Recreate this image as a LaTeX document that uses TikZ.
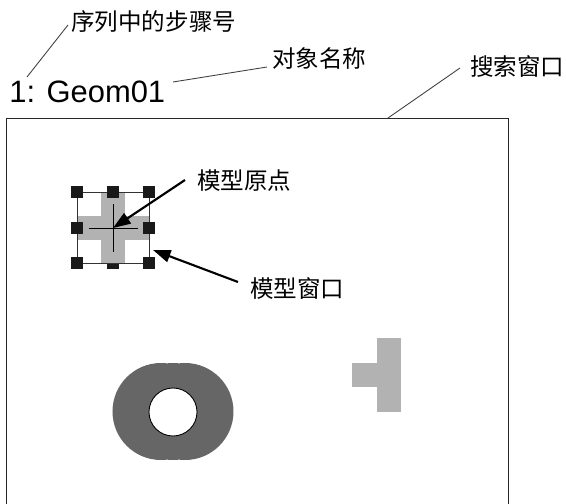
\documentclass[tikz,border=0pt]{standalone}
\usepackage{fontspec}
\setmainfont{Liberation Sans}
\newfontfamily\cjk{Noto Sans CJK SC}
\usetikzlibrary{arrows.meta,positioning,calc}

\begin{document}
\begin{tikzpicture}[
  x=0.02cm,y=-0.02cm,
  lbl/.style={font=\cjk\fontsize{13.4}{15}\selectfont,inner sep=0pt,anchor=west},
  steplbl/.style={font=\fontsize{17.6}{19}\selectfont,inner sep=0pt,anchor=west},
  lead/.style={draw=black!75,line width=0.5pt},
  ar/.style={-{Triangle[length=10pt,width=7pt]},line width=1.2pt},
  handle/.style={fill=black!90,minimum size=6.8pt,inner sep=0pt},
  light/.style={fill=black!30},
  dark/.style={fill=black!60}
]
\useasboundingbox (0,0) rectangle (566,504);

% labels at the top
\node[lbl]     (stepno)    at (71,22)  {序列中的步骤号};
\node[steplbl] (geomname)  at (9,92)   {1: Geom01};
\node[lbl]     (objname)   at (272,59) {对象名称};
\node[lbl]     (searchwin) at (470,67) {搜索窗口};

% search window (open at the bottom)
\draw[black!85,line width=0.5pt] (6,504) -- (6,118) -- (508,118) -- (508,504);
\coordinate (sw) at (388,118);

% leader lines
\coordinate (s1) at (27,77);
\coordinate (s2) at (68,25);
\coordinate (g1) at (173,82);
\coordinate (g2) at (267,67);
\coordinate (w2) at (460,68);
\draw[lead] (s1) -- (s2);
\draw[lead] (g1) -- (g2);
\draw[lead] (sw) -- (w2);

% model: cross with window and handles
\node[handle] (hbm) at (113,263) {};
\fill[light] (101,192) rectangle (125,264);
\fill[light] (77,216) rectangle (149,240);
\draw[black!80,line width=0.5pt] (77,192) rectangle (149,263);
\coordinate (wc) at (113,228);
\draw[line width=0.5pt] (89,228) -- (138,228);
\draw[line width=0.5pt] (113,204) -- (113,252);
\foreach \hx/\hy in {77/192,113/192,149/192,77/228,149/228,77/263,149/263}
  \node[handle] at (\hx,\hy) {};

\node[lbl] (origin)   at (197,181) {模型原点};
\node[lbl] (modelwin) at (250,289) {模型窗口};
\coordinate (o1) at (185,180);
\coordinate (m1) at (238,282);
\coordinate (m2) at (153,250);
\draw[ar] (o1) -- (wc);
\draw[ar] (m1) -- (m2);

% ring
\fill[dark] (161,411.5) circle (48.5) (173,411.5) circle (48.5) (185,411.5) circle (48.5);
\draw[fill=white,line width=0.5pt] (173,412) circle (24);

% T shape
\fill[light] (377,338) rectangle (401,412);
\fill[light] (352,363) rectangle (377,387);
\end{tikzpicture}
\end{document}
